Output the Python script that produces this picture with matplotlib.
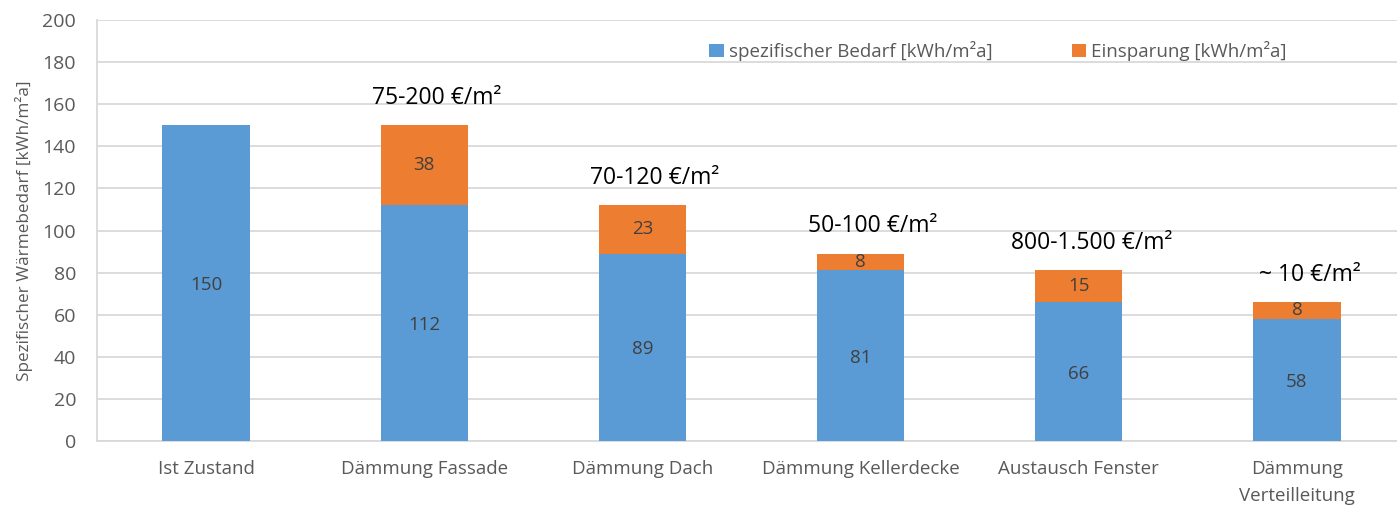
import matplotlib.pyplot as plt
import numpy as np

categories = ['Ist Zustand', 'Dämmung Fassade', 'Dämmung Dach', 'Dämmung Kellerdecke',
              'Austausch Fenster', 'Dämmung\nVerteilleitung']
bedarf = [150, 112, 89, 81, 66, 58]
einsparung = [0, 38, 23, 8, 15, 8]
kosten = ['', '75-200 €/m²', '70-120 €/m²', '50-100 €/m²', '800-1.500 €/m²', '~ 10 €/m²']

blue = '#5B9BD5'
orange = '#ED7D31'
grey_txt = '#595959'
grid_c = '#D9D9D9'

plt.rcParams['font.family'] = ['Open Sans', 'DejaVu Sans']

fig = plt.figure(figsize=(13.97, 5.05), dpi=100)
ax = fig.add_axes([97 / 1397, 64 / 505, 1309 / 1397, 421 / 505])

x = np.arange(len(categories))
w = 0.4
ax.bar(x, bedarf, w, color=blue, label='spezifischer Bedarf [kWh/m²a]', zorder=3)
ax.bar(x, einsparung, w, bottom=bedarf, color=orange, label='Einsparung [kWh/m²a]', zorder=3)

for i in range(len(x)):
    ax.text(x[i], bedarf[i] / 2 - 1, str(bedarf[i]), ha='center', va='center',
            fontsize=13.5, color='#404040', zorder=4)
    if einsparung[i] > 0:
        ax.text(x[i], bedarf[i] + einsparung[i] / 2, str(einsparung[i]), ha='center',
                va='center', fontsize=13.5, color='#404040', zorder=4)
    if kosten[i]:
        ax.annotate(kosten[i], (x[i], bedarf[i] + einsparung[i]), xytext=(9, 11),
                    textcoords='offset points', ha='center', va='bottom',
                    fontsize=16.5, color='black')

ax.set_xlim(-0.5, len(x) - 0.5)
ax.set_ylim(0, 200)
ax.set_yticks(range(0, 201, 20))
ax.set_xticks(x)
ax.set_xticklabels(categories, fontsize=13.5, color=grey_txt, va='top', linespacing=1.6)
ax.tick_params(axis='y', labelsize=14, labelcolor=grey_txt, length=0, pad=15)
ax.tick_params(axis='x', length=0, pad=14)
ax.set_ylabel('Spezifischer Wärmebedarf [kWh/m²a]', fontsize=12.3, color=grey_txt, labelpad=7)
ax.yaxis.grid(True, color=grid_c, linewidth=1.3, zorder=0)
for s in ['top', 'right']:
    ax.spines[s].set_visible(False)
for s in ['left', 'bottom']:
    ax.spines[s].set_color(grid_c)
    ax.spines[s].set_linewidth(1.3)

ax.legend(loc='upper left', bbox_to_anchor=(0.455, 0.99), ncol=2, frameon=False,
          fontsize=13.5, handlelength=0.75, handleheight=0.75, columnspacing=4.2,
          handletextpad=0.3, labelcolor=grey_txt)

fig.savefig('out.png', dpi=100)
